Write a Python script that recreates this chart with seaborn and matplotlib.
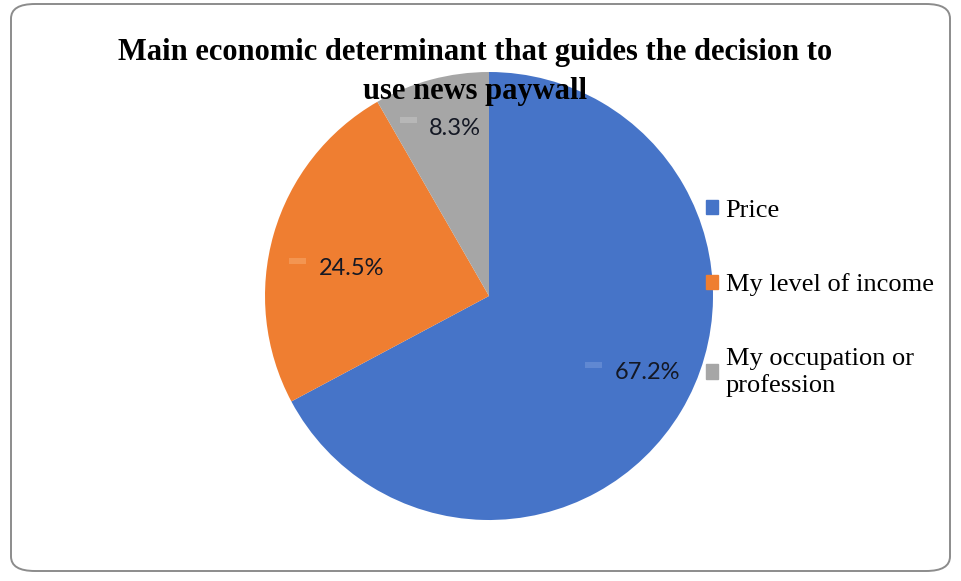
import matplotlib
matplotlib.use("Agg")
import matplotlib.pyplot as plt
import seaborn as sns
import numpy as np
from matplotlib.patches import FancyBboxPatch, Rectangle

# Survey shares
categories = ["Price", "My level of income", "My occupation or\nprofession"]
shares = [67.2, 24.5, 8.3]
title_text = "Main economic determinant that guides the decision to\nuse news paywall"

sns.set_theme(style="white")
plt.rcParams["font.family"] = ["Liberation Serif", "DejaVu Serif"]

colors = ["#4674C8", "#EF7E31", "#A6A6A6"]
marker_colors = ["#6a8fd6", "#f59d5c", "#bdbdbd"]

W, H = 961, 581
fig = plt.figure(figsize=(W / 100, H / 100), dpi=100)
fig.patch.set_facecolor("white")

# Rounded chart frame
frame = FancyBboxPatch((11 / W, 10 / H), (W - 22) / W, (H - 14) / H,
                       boxstyle="round,pad=0,rounding_size=0.025",
                       transform=fig.transFigure, facecolor="none",
                       edgecolor="#8c8c8c", linewidth=1.4, zorder=-1)
fig.patches.append(frame)

cx, cy, r = 489, 296, 224
ax = fig.add_axes([(cx - r) / W, (H - cy - r) / H, 2 * r / W, 2 * r / H])
ax.patch.set_alpha(0)
wedges, _ = ax.pie(shares, colors=colors, startangle=90, counterclock=False,
                   radius=1.0, wedgeprops=dict(linewidth=0))
ax.set_xlim(-1, 1)
ax.set_ylim(-1, 1)
ax.axis("off")

# Percentage labels with small colour keys
label_radius = [0.779, 0.630, 0.778]
label_angle_shift = [5.9, 3.7, -3.7]
px = 1 / r  # one pixel in data units
fig.canvas.draw()
renderer = fig.canvas.get_renderer()
for w, val, rad, shift, mc in zip(wedges, shares, label_radius,
                                  label_angle_shift, marker_colors):
    mid = np.deg2rad((w.theta1 + w.theta2) / 2 + shift)
    x, y = rad * np.cos(mid), rad * np.sin(mid)
    t = ax.text(x, y - 3 * px, f"{val:.1f}%", ha="center", va="center",
                fontsize=17, family=["Lato", "DejaVu Sans"], color="#141824")
    half = t.get_window_extent(renderer).width / 2 * px
    key_w, key_h = 17 * px, 6 * px
    ax.add_patch(Rectangle((x - half - 12 * px - key_w, y + 5 * px - key_h / 2),
                           key_w, key_h, facecolor=mc, edgecolor="none",
                           alpha=0.75))

# Legend
handles = [plt.Rectangle((0, 0), 1, 1, color=c) for c in colors]
leg = fig.legend(handles, categories, loc="upper left",
                 bbox_to_anchor=(682 / W, 1 - 176 / H), frameon=False,
                 fontsize=19, handlelength=0.45, handleheight=0.45,
                 handletextpad=0.3, labelspacing=1.95)
for t in leg.get_texts():
    t.set_color("black")
    t.set_linespacing(1.25)

fig.text(475 / W, 1 - 72 / H, title_text, ha="center", va="center",
         fontsize=22, fontweight="bold", linespacing=1.45, color="black")

fig.savefig("out.png", dpi=100, facecolor="white")
